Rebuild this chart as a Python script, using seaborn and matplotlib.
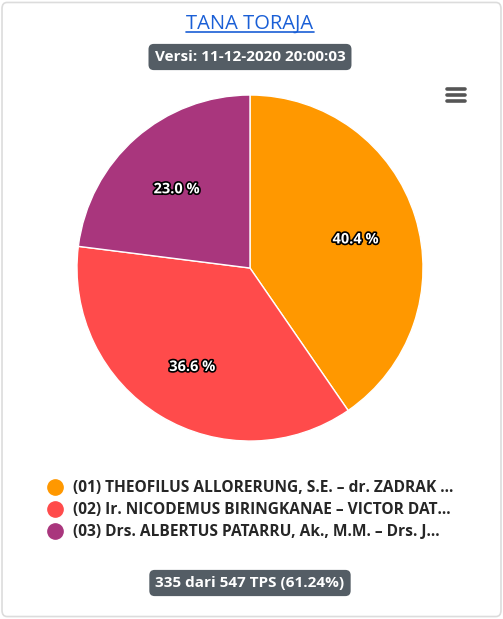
import matplotlib
matplotlib.use('Agg')
import matplotlib.pyplot as plt
import matplotlib.patheffects as pe
from matplotlib.lines import Line2D
from matplotlib.patches import FancyBboxPatch
import seaborn as sns

# data
candidates = ['(01) THEOFILUS ALLORERUNG, S.E. \u2013 dr. ZADRAK \u2026',
              '(02) Ir. NICODEMUS BIRINGKANAE \u2013 VICTOR DAT\u2026',
              '(03) Drs. ALBERTUS PATARRU, Ak., M.M. \u2013 Drs. J\u2026']
shares = [40.4, 36.6, 23.0]
colors = ['#ff9800', '#ff4b4b', '#a9367d']
title = 'TANA TORAJA'
version = 'Versi: 11-12-2020 20:00:03'
footer = '335 dari 547 TPS (61.24%)'

sns.set_theme(style='white')
plt.rcParams['font.family'] = ['Open Sans', 'DejaVu Sans']

fig = plt.figure(figsize=(5.03, 6.19), dpi=100)
fig.patch.set_facecolor('white')

# card border
card = FancyBboxPatch((0.004, 0.004), 0.992, 0.992, boxstyle='round,pad=0,rounding_size=0.01',
                      transform=fig.transFigure, fc='white', ec='#dcdcdc', lw=1.2, zorder=-5)
fig.add_artist(card)

ax = fig.add_axes([0.153, 0.2875, 0.688, 0.559])
wedges, texts, autotexts = ax.pie(shares, colors=colors, startangle=90, counterclock=False,
                                  autopct='%.1f %%', pctdistance=0.64,
                                  wedgeprops=dict(edgecolor='white', linewidth=1))
for t in autotexts:
    x, y = t.get_position()
    t.set_position((x, y - 0.025))
    t.set_color('white')
    t.set_fontweight('bold')
    t.set_fontsize(10.5)
    t.set_path_effects([pe.withStroke(linewidth=2.4, foreground='black')])
ax.set_xlim(-1, 1)
ax.set_ylim(-1, 1)
ax.set_aspect('equal')
ax.axis('off')

# title with underline
tt = fig.text(0.497, 1 - 23.5 / 619, title, ha='center', va='center', fontsize=14.5, color='#1a5fd6')
fig.canvas.draw()
bb = tt.get_window_extent().transformed(fig.transFigure.inverted())
fig.add_artist(Line2D([bb.x0, bb.x1], [bb.y0 + 0.002, bb.y0 + 0.002], color='#1a5fd6', lw=1.2,
                      transform=fig.transFigure))

badge = dict(boxstyle='round,pad=0.4,rounding_size=0.35', fc='#545d65', ec='none')
fig.text(0.497, 1 - 57 / 619, version, ha='center', va='center', fontsize=11,
         fontweight='bold', color='white', bbox=badge)
fig.text(0.497, 1 - 583 / 619, footer, ha='center', va='center', fontsize=11,
         fontweight='bold', color='white', bbox=badge)

# menu icon
for yy in (89, 95, 101):
    fig.add_artist(Line2D([447 / 503, 465 / 503], [1 - yy / 619, 1 - yy / 619], color='#555555',
                          lw=2.6, solid_capstyle='round', transform=fig.transFigure))

handles = [Line2D([], [], marker='o', ls='none', markersize=11, markerfacecolor=c,
                  markeredgecolor=c) for c in colors]
leg = fig.legend(handles, candidates, loc='upper left', bbox_to_anchor=(47 / 503, 1 - 480 / 619),
                 frameon=False, prop=dict(weight='bold', size=11.2), labelcolor='#262626',
                 handletextpad=0.65, labelspacing=0.4, handlelength=1.0, borderpad=0,
                 borderaxespad=0)

fig.savefig('out.png', dpi=100, facecolor='white')
